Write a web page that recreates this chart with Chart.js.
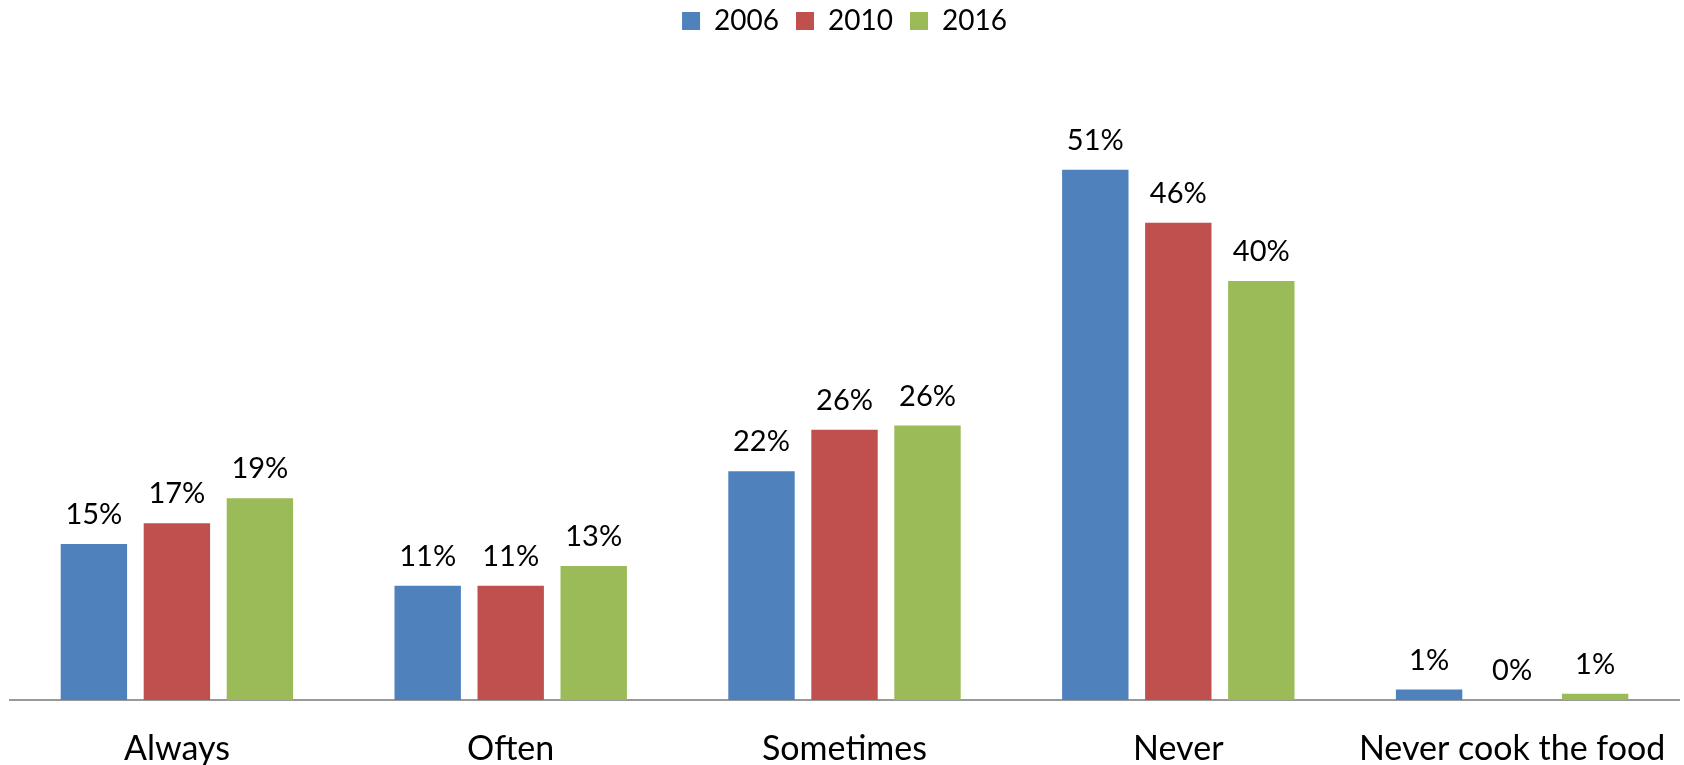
<!DOCTYPE html>
<html>
<head>
<meta charset="utf-8">
<script src="https://cdn.jsdelivr.net/npm/chart.js@4/dist/chart.umd.min.js"></script>
<style>
  html, body { margin: 0; padding: 0; background: #ffffff; }
  #wrap { width: 1684px; height: 765px; }
</style>
</head>
<body>
<div id="wrap"><canvas id="c" width="1684" height="765"></canvas></div>
<script>
const categories = ["Always", "Often", "Sometimes", "Never", "Never cook the food"];
const seriesNames = ["2006", "2010", "2016"];
const values2006 = [15, 11, 22, 51, 1.0];
const values2010 = [17, 11, 26, 45.9, 0];
const values2016 = [19.4, 12.9, 26.4, 40.3, 0.6];
const colors = ["#4F81BD", "#C0504D", "#9BBB59"];

const FONT = "Lato, 'Open Sans', sans-serif";

const valueLabels = {
  id: 'valueLabels',
  afterDatasetsDraw(chart) {
    const ctx = chart.ctx;
    ctx.save();
    ctx.font = "29px " + FONT;
    ctx.fillStyle = "#000000";
    ctx.textAlign = "center";
    ctx.textBaseline = "alphabetic";
    chart.data.datasets.forEach((ds, i) => {
      const meta = chart.getDatasetMeta(i);
      meta.data.forEach((el, j) => {
        const v = ds.data[j];
        ctx.fillText(Math.round(v) + "%", el.x, el.y - 20);
      });
    });
    ctx.restore();
  }
};

new Chart(document.getElementById('c'), {
  type: 'bar',
  data: {
    labels: categories,
    datasets: [
      { label: seriesNames[0], data: values2006, backgroundColor: colors[0] },
      { label: seriesNames[1], data: values2010, backgroundColor: colors[1] },
      { label: seriesNames[2], data: values2016, backgroundColor: colors[2] }
    ]
  },
  options: {
    responsive: false,
    animation: false,
    devicePixelRatio: 1,
    layout: { padding: { top: -10, left: 10, right: 5, bottom: 0 } },
    datasets: { bar: { categoryPercentage: 0.746, barPercentage: 0.80 } },
    plugins: {
      legend: {
        position: 'top',
        labels: {
          boxWidth: 18, boxHeight: 18, padding: 17,
          color: "#000000",
          font: { family: FONT, size: 28 }
        }
      },
      tooltip: { enabled: false }
    },
    scales: {
      x: {
        grid: { display: false, drawTicks: false },
        border: { display: true, color: "#999999", width: 2 },
        ticks: { color: "#000000", font: { family: FONT, size: 34 }, padding: 29, maxRotation: 0, autoSkip: false },
        afterFit: (scale) => { scale.height = 65; scale.paddingLeft = 0; scale.paddingRight = 0; }
      },
      y: {
        display: false,
        min: 0,
        max: 63
      }
    }
  },
  plugins: [valueLabels]
});
</script>
</body>
</html>
